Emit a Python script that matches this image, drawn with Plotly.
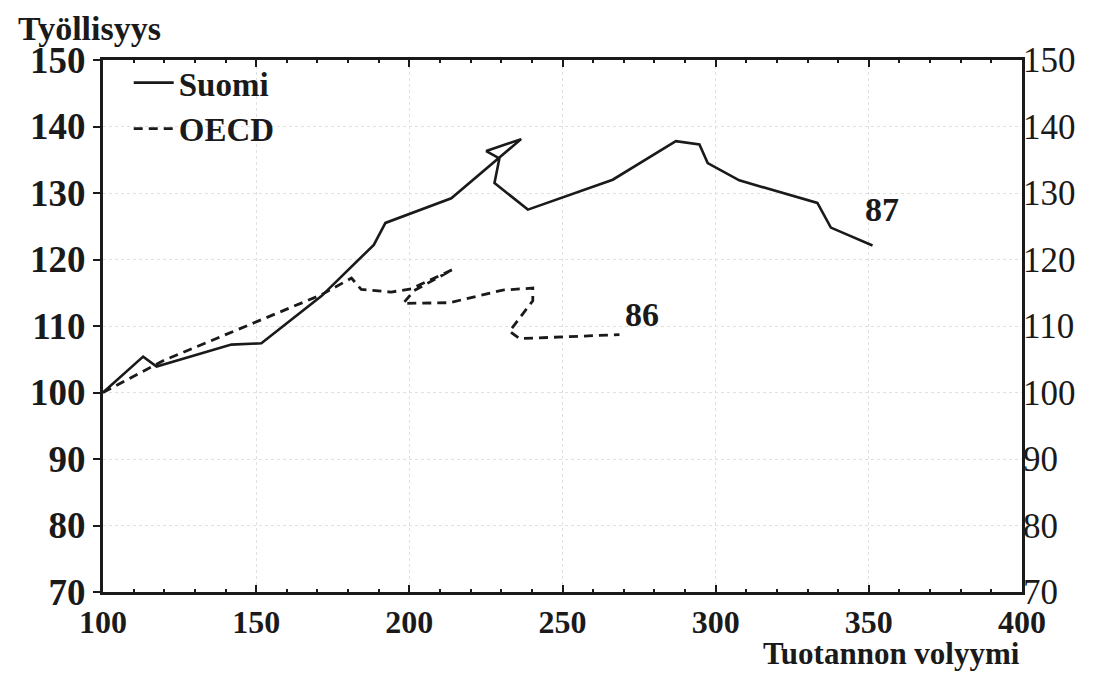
import plotly.graph_objects as go

# Data
suomi_x = [100, 113.1, 117.5, 139.2, 141.9, 151.7, 171.3, 188.4, 192.2, 213.7,
           229.4, 236.5, 225.1, 229.4, 227.8, 238.7, 266.4, 287.0, 294.7, 297.4,
           307.7, 333.2, 337.6, 351.2]
suomi_y = [100, 105.4, 103.9, 106.9, 107.2, 107.4, 114.5, 122.2, 125.5, 129.2,
           135.4, 138.1, 136.3, 135.2, 131.5, 127.5, 132.0, 137.8, 137.3, 134.5,
           131.9, 128.5, 124.8, 122.1]

oecd_x = [100, 120.2, 171.3, 181.1, 184.3, 194.1, 200.6, 214.2, 201.5, 198.0,
          213.1, 230.5, 240.3, 240.3, 232.7, 236.0, 268.6]
oecd_y = [100, 104.9, 114.7, 117.2, 115.5, 115.1, 115.6, 118.5, 115.3, 113.4,
          113.5, 115.4, 115.7, 113.8, 109.2, 108.1, 108.7]

y_ticks = [70, 80, 90, 100, 110, 120, 130, 140, 150]
x_ticks = [100, 150, 200, 250, 300, 350, 400]
end_labels = [("87", 354.3, 127.5), ("86", 276.0, 111.7)]

FONT = "Liberation Serif"
INK = "#1a1a1a"

fig = go.Figure()
fig.add_trace(go.Scatter(x=suomi_x, y=suomi_y, mode="lines", name="Suomi",
                         line=dict(color=INK, width=2.6)))
fig.add_trace(go.Scatter(x=oecd_x, y=oecd_y, mode="lines", name="OECD",
                         line=dict(color=INK, width=2.8, dash="9px,6px")))
# invisible trace to carry the right-hand axis
fig.add_trace(go.Scatter(x=oecd_x, y=oecd_y, mode="lines", yaxis="y2",
                         showlegend=False, hoverinfo="skip", opacity=0,
                         line=dict(width=0)))

for txt, xv, yv in end_labels:
    fig.add_annotation(x=xv, y=yv, text="<b>" + txt + "</b>", showarrow=False,
                       font=dict(family=FONT, size=34, color=INK))

fig.add_annotation(xref="paper", yref="paper", x=-0.095, y=1.098,
                   xanchor="left", yanchor="top", text="<b>Työllisyys</b>",
                   showarrow=False, font=dict(family=FONT, size=34, color=INK))
fig.add_annotation(xref="paper", yref="paper", x=1.0, y=-0.152,
                   xanchor="right", yanchor="bottom", text="<b>Tuotannon volyymi</b>",
                   showarrow=False, font=dict(family=FONT, size=31, color=INK))

fig.update_layout(
    width=1093, height=674,
    margin=dict(l=95, r=79, t=52, b=90),
    paper_bgcolor="white", plot_bgcolor="white",
    font=dict(family=FONT, color=INK),
    showlegend=True,
    legend=dict(x=0.028, y=1.01, xanchor="left", yanchor="top",
                bgcolor="rgba(0,0,0,0)", borderwidth=0,
                font=dict(family=FONT, size=33, color=INK, weight="bold"),
                itemwidth=40, tracegroupgap=0),
    xaxis=dict(range=[100, 400], tickvals=x_ticks, ticks="inside", ticklen=7,
               tickwidth=2, tickcolor=INK,
               minor=dict(dtick=10, ticks="inside", ticklen=3, tickcolor=INK),
               showline=True, linecolor=INK, linewidth=3, mirror="ticks",
               showgrid=True, gridcolor="#e0e0e0", griddash="dot", gridwidth=1,
               zeroline=False,
               tickfont=dict(family=FONT, size=32, color=INK, weight="bold")),
    yaxis=dict(range=[70, 150], tickvals=y_ticks, ticks="outside", ticklen=7,
               tickwidth=2, tickcolor=INK,
               showline=True, linecolor=INK, linewidth=3, mirror=True,
               showgrid=True, gridcolor="#e0e0e0", griddash="dot", gridwidth=1,
               zeroline=False,
               tickfont=dict(family=FONT, size=37, color=INK, weight="bold")),
    yaxis2=dict(range=[70, 150], tickvals=y_ticks, overlaying="y", side="right",
                ticks="", showline=False, showgrid=False, zeroline=False,
                tickfont=dict(family=FONT, size=35, color=INK)),
)

fig.write_html("out.html")
